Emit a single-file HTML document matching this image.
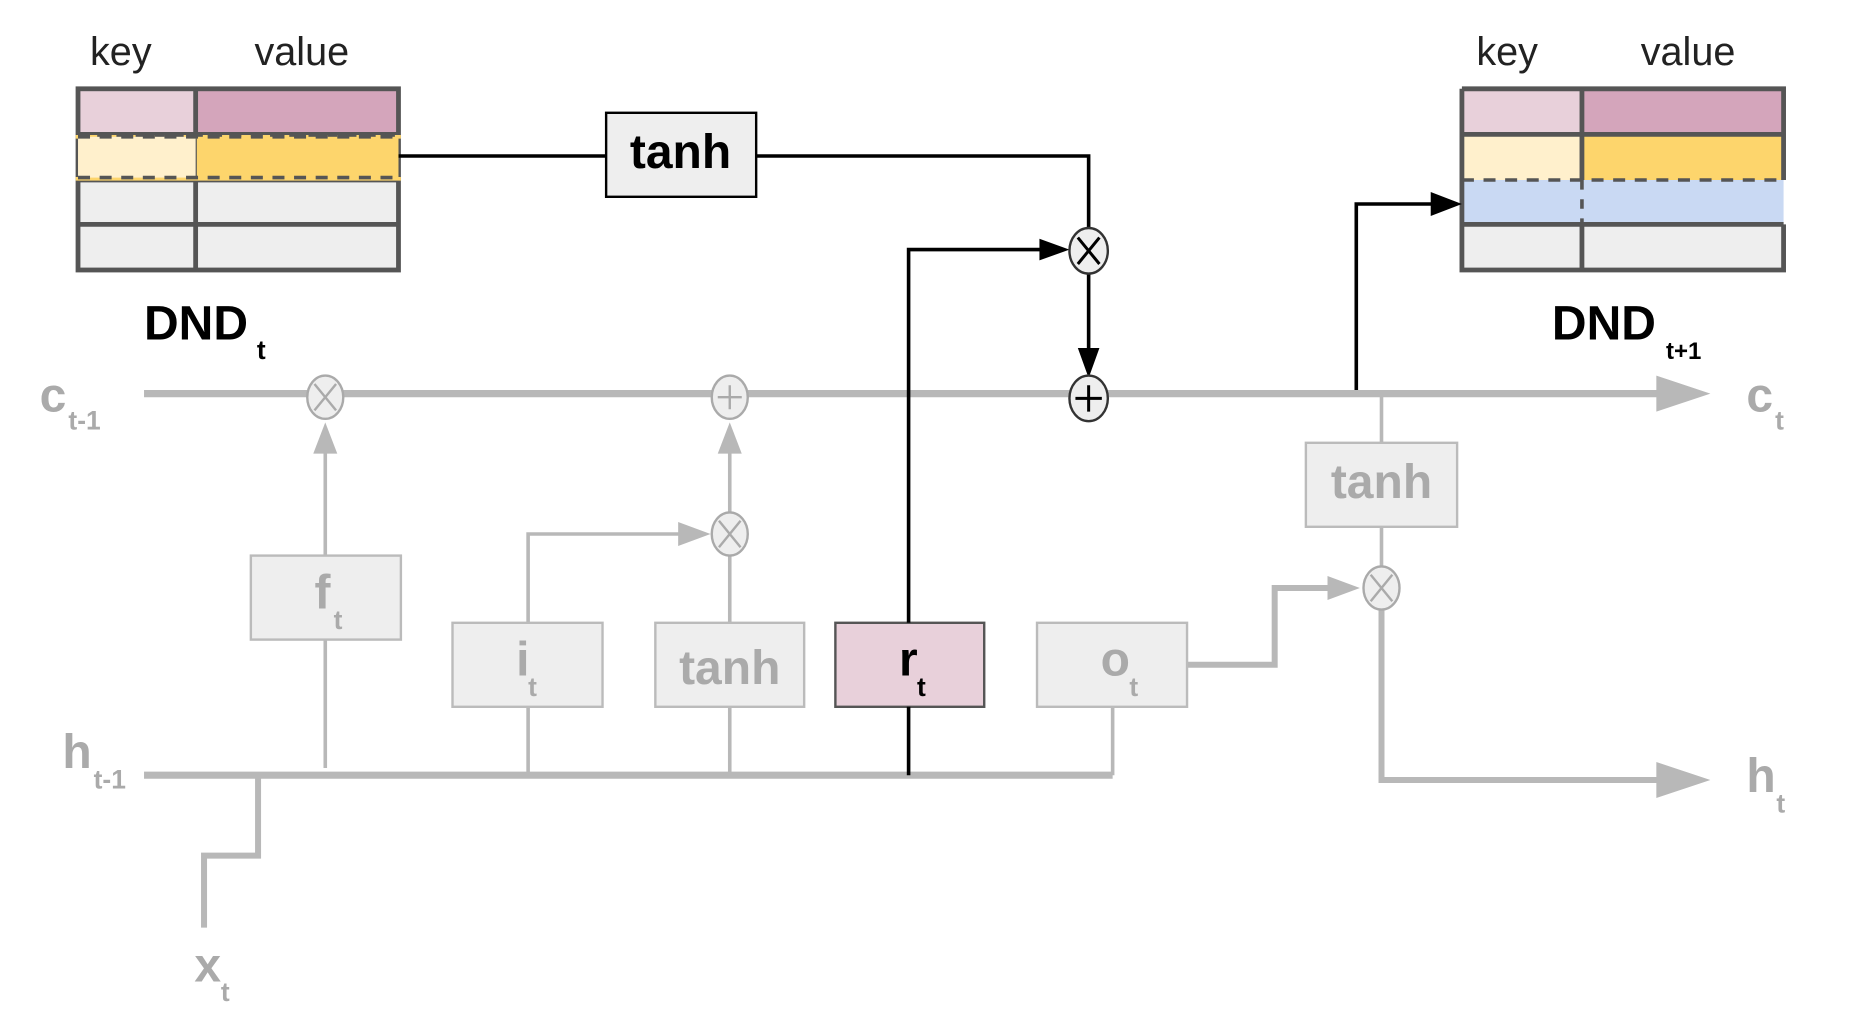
<!DOCTYPE html>
<html><head><meta charset="utf-8"><style>
html,body{margin:0;padding:0;background:#fff;}
svg{display:block;}
text{font-family:"Liberation Sans",sans-serif;}
</style></head><body>
<svg width="1858" height="1026" viewBox="0 0 1548 855" preserveAspectRatio="none" xmlns="http://www.w3.org/2000/svg">
<defs>
<marker id="ab" markerWidth="10" markerHeight="10" refX="9" refY="5" orient="auto" markerUnits="userSpaceOnUse" viewBox="0 0 10 10"><path d="M0,0 L10,5 L0,10 z" fill="#000"/></marker>
</defs>
<rect width="1548" height="855" fill="#fff"/>
<!-- left table -->
<text x="75" y="54" font-size="33" fill="#222">key</text>
<text x="212" y="54" font-size="33" fill="#222">value</text>
<rect x="65" y="74" width="98" height="38" fill="#e8d0da"/><rect x="163" y="74" width="169" height="38" fill="#d4a5bb"/>
<rect x="65" y="112" width="98" height="38" fill="#fff0cc"/><rect x="163" y="112" width="169" height="38" fill="#fdd56c"/>
<rect x="65" y="150" width="98" height="75" fill="#eeeeee"/><rect x="163" y="150" width="169" height="75" fill="#eeeeee"/>
<g stroke="#555" stroke-width="4" fill="none">
<rect x="65" y="74" width="267" height="151"/>
<line x1="163" y1="74" x2="163" y2="225"/>
<line x1="65" y1="150" x2="332" y2="150"/><line x1="65" y1="187" x2="332" y2="187"/>
<line x1="65" y1="112" x2="332" y2="112"/>
</g>
<path d="M63,114 H334 M63,149 H334" stroke="#fdd56c" stroke-width="3" stroke-dasharray="0"/>
<path d="M65,113 H332" stroke="#555" stroke-width="3" stroke-dasharray="8,8"/>
<rect x="65" y="114" width="98" height="34" fill="#fff0cc"/><rect x="164" y="114" width="168" height="34" fill="#fdd56c"/>
<path d="M65,114 H332 M65,148 H332" stroke="#555" stroke-width="3" stroke-dasharray="10,8"/>
<text x="120" y="283" font-size="40" font-weight="bold" fill="#000">DND</text>
<text x="214" y="299" font-size="22" font-weight="bold" fill="#000">t</text>
<!-- right table -->
<text x="1230" y="54" font-size="33" fill="#222">key</text>
<text x="1367" y="54" font-size="33" fill="#222">value</text>
<rect x="1218" y="74" width="100" height="38" fill="#e8d0da"/><rect x="1318" y="74" width="168" height="38" fill="#d4a5bb"/>
<rect x="1218" y="112" width="100" height="38" fill="#fff0cc"/><rect x="1318" y="112" width="168" height="38" fill="#fdd56c"/>
<rect x="1218" y="150" width="268" height="37" fill="#c9d9f3"/>
<rect x="1218" y="187" width="268" height="38" fill="#eeeeee"/>
<g stroke="#555" stroke-width="4" fill="none">
<path d="M1218,74 H1486 V150 M1486,187 V225 H1218 V74"/>
<line x1="1318" y1="74" x2="1318" y2="150"/><line x1="1318" y1="187" x2="1318" y2="225"/>
<line x1="1218" y1="112" x2="1486" y2="112"/><line x1="1218" y1="187" x2="1486" y2="187"/>
</g>
<path d="M1218,150 H1486" stroke="#555" stroke-width="3" stroke-dasharray="10,8"/>
<path d="M1318,150 V187" stroke="#555" stroke-width="3" stroke-dasharray="8,8"/>
<text x="1293" y="283" font-size="40" font-weight="bold" fill="#000">DND</text>
<text x="1388" y="299" font-size="20" font-weight="bold" fill="#000">t+1</text>
<!-- gray structure -->
<g stroke="#b8b8b8" fill="none">
<line x1="120" y1="328" x2="1385" y2="328" stroke-width="6"/>
<line x1="120" y1="646" x2="927" y2="646" stroke-width="6"/>
<path d="M215,646 V713 H170 V773" stroke-width="5"/>
<line x1="271" y1="640" x2="271" y2="375" stroke-width="3"/>
<path d="M440,589 V445 H570" stroke-width="3"/>
<line x1="608" y1="589" x2="608" y2="462" stroke-width="3"/>
<line x1="608" y1="428" x2="608" y2="375" stroke-width="3"/>
<line x1="440" y1="646" x2="440" y2="589" stroke-width="3"/>
<line x1="608" y1="646" x2="608" y2="589" stroke-width="3"/>
<line x1="927" y1="646" x2="927" y2="589" stroke-width="3"/>
<path d="M989,554 H1062 V490 H1112" stroke-width="5"/>
<line x1="1151" y1="328" x2="1151" y2="369" stroke-width="3"/>
<line x1="1151" y1="439" x2="1151" y2="473" stroke-width="3"/>
<path d="M1151,507 V650 H1385" stroke-width="5"/>
</g>
<g fill="#b8b8b8">
<path d="M1380,313 L1425,328 L1380,343 z"/>
<path d="M1380,635 L1425,650 L1380,665 z"/>
<path d="M261,378 L271,352 L281,378 z"/>
<path d="M598,378 L608,352 L618,378 z"/>
<path d="M565,435 L592,445 L565,455 z"/>
<path d="M1106,480 L1133,490 L1106,500 z"/>
</g>
<!-- gray circles -->
<g stroke="#aaa" stroke-width="2" fill="#eee">
<ellipse cx="271" cy="331" rx="15" ry="18"/>
<ellipse cx="608" cy="331" rx="15" ry="18"/>
<ellipse cx="608" cy="445" rx="15" ry="18"/>
<ellipse cx="1151" cy="490" rx="15" ry="18"/>
</g>
<g stroke="#aaa" stroke-width="2">
<path d="M262,320 L280,342 M280,320 L262,342"/>
<path d="M599,434 L617,456 M617,434 L599,456"/>
<path d="M1142,479 L1160,501 M1160,479 L1142,501"/>
<path d="M598,331 H618 M608,321 V341"/>
</g>
<!-- gray boxes -->
<g fill="#eee" stroke="#bbb" stroke-width="2">
<rect x="209" y="463" width="125" height="70"/>
<rect x="377" y="519" width="125" height="70"/>
<rect x="546" y="519" width="124" height="70"/>
<rect x="864" y="519" width="125" height="70"/>
<rect x="1088" y="369" width="126" height="70"/>
</g>
<rect x="696" y="519" width="124" height="70" fill="#e8d0da" stroke="#555" stroke-width="2"/>
<g fill="#aaa" font-weight="bold">
<text x="262" y="507" font-size="40">f</text><text x="278" y="524" font-size="22">t</text>
<text x="430" y="563" font-size="40">i</text><text x="440" y="580" font-size="22">t</text>
<text x="608" y="570" font-size="40" text-anchor="middle">tanh</text>
<text x="917" y="563" font-size="40">o</text><text x="941" y="580" font-size="22">t</text>
<text x="1151" y="415" font-size="40" text-anchor="middle">tanh</text>
<text x="33" y="343" font-size="40">c</text><text x="57" y="358" font-size="22">t-1</text>
<text x="52" y="640" font-size="40">h</text><text x="78" y="657" font-size="22">t-1</text>
<text x="1455" y="343" font-size="40">c</text><text x="1479" y="358" font-size="22">t</text>
<text x="1455" y="660" font-size="40">h</text><text x="1480" y="677" font-size="22">t</text>
<text x="162" y="818" font-size="40">x</text><text x="184" y="834" font-size="22">t</text>
</g>
<text x="749" y="563" font-size="40" font-weight="bold" fill="#000">r</text>
<text x="764" y="580" font-size="22" font-weight="bold" fill="#000">t</text>
<!-- black paths -->
<g stroke="#000" stroke-width="3" fill="none">
<line x1="332" y1="130" x2="505" y2="130"/>
<path d="M630,130 H907 V191"/>
<path d="M757,646 V589 M757,519 V208 H872"/>
<line x1="907" y1="227" x2="907" y2="296"/>
<path d="M1130,325 V170 H1195"/>
</g>
<g fill="#000">
<path d="M866,199 L891,208 L866,217 z"/>
<path d="M898,290 L907,315 L916,290 z"/>
<path d="M1192,160 L1218,170 L1192,180 z"/>
</g>
<rect x="505" y="94" width="125" height="70" fill="#eee" stroke="#000" stroke-width="2"/>
<text x="567" y="140" font-size="40" font-weight="bold" fill="#000" text-anchor="middle">tanh</text>
<g stroke="#333" stroke-width="2" fill="#eee">
<ellipse cx="907" cy="209" rx="16" ry="19"/>
<ellipse cx="907" cy="332" rx="16" ry="19"/>
</g>
<path d="M898,198 L916,220 M916,198 L898,220 M896,332 H918 M907,321 V343" stroke="#000" stroke-width="2.5"/>
</svg>
</body></html>
